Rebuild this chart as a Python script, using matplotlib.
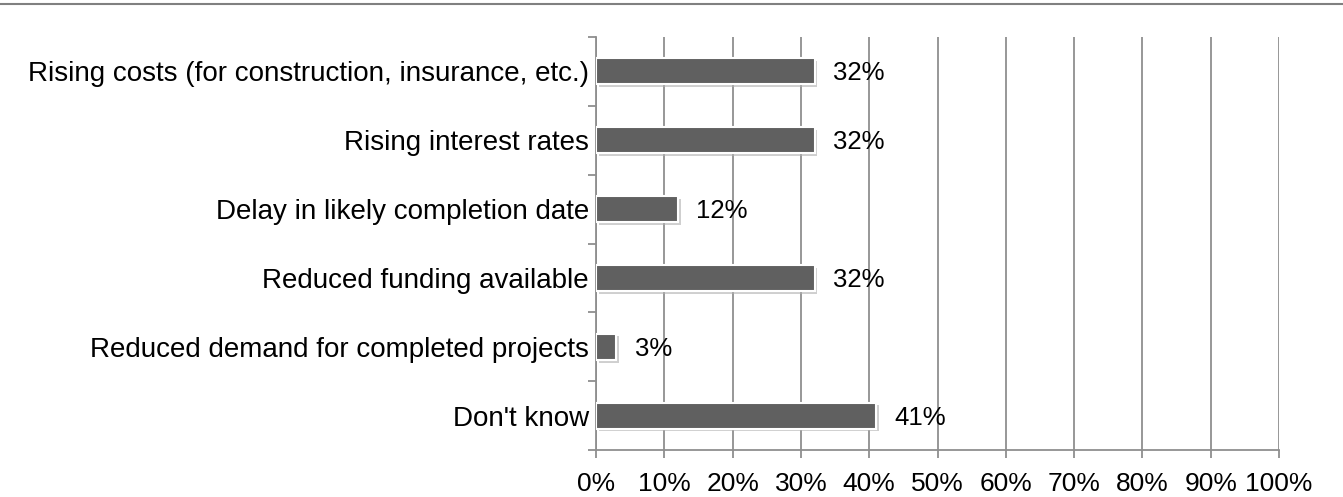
import numpy as np
import matplotlib
matplotlib.use("Agg")
import matplotlib.pyplot as plt
import matplotlib.patheffects as pe
from matplotlib.ticker import MultipleLocator, PercentFormatter

categories = [
    "Rising costs (for construction, insurance, etc.)",
    "Rising interest rates",
    "Delay in likely completion date",
    "Reduced funding available",
    "Reduced demand for completed projects",
    "Don't know",
]
values = [32, 32, 12, 32, 3, 41]

plt.rcParams["font.family"] = ["Liberation Sans", "DejaVu Sans"]

GRID = "#8f8f8f"
BAR = "#606060"

fig = plt.figure(figsize=(13.43, 4.97), dpi=100)
ax = fig.add_axes([596 / 1343, 47 / 497, 683 / 1343, 413 / 497])

y = np.arange(len(categories))
bars = ax.barh(y, values, height=0.38, color=BAR, edgecolor="white",
               linewidth=1.5, zorder=3)
for b in bars:
    b.set_path_effects([pe.SimplePatchShadow(offset=(2, -2),
                                             shadow_rgbFace="#b0b0b0",
                                             alpha=0.6),
                        pe.Normal()])

for yi, v in zip(y, values):
    ax.annotate(f"{v}%", xy=(v, yi), xytext=(13, -1.5),
                textcoords="offset points", va="center", ha="left",
                fontsize=18.5, color="black", zorder=5)

ax.set_xlim(0, 100)
ax.set_ylim(len(categories) - 0.5, -0.5)
ax.xaxis.set_major_locator(MultipleLocator(10))
ax.xaxis.set_major_formatter(PercentFormatter(decimals=0))
ax.grid(axis="x", color=GRID, linewidth=1.3, zorder=0)
ax.set_axisbelow(True)

ax.set_yticks(y)
ax.set_yticklabels(categories, fontsize=20)
ax.set_yticks(np.arange(len(categories) + 1) - 0.5, minor=True)
ax.tick_params(axis="y", which="major", length=0, pad=5)
ax.tick_params(axis="y", which="minor", length=6, width=1.3, color=GRID,
               direction="out")
ax.tick_params(axis="x", length=6, width=1.3, color=GRID, direction="out",
               labelsize=19, pad=10)
for lab in ax.get_yticklabels():
    lab.set_zorder(6)

for s in ["top", "right"]:
    ax.spines[s].set_visible(False)
for s in ["left", "bottom"]:
    ax.spines[s].set_color(GRID)
    ax.spines[s].set_linewidth(1.3)

# frame line at the top of the picture
fig.add_artist(plt.Line2D([0, 1], [1 - 4 / 497, 1 - 4 / 497],
                          color="#808080", linewidth=1.5,
                          transform=fig.transFigure))

fig.savefig("out.png", dpi=100)
